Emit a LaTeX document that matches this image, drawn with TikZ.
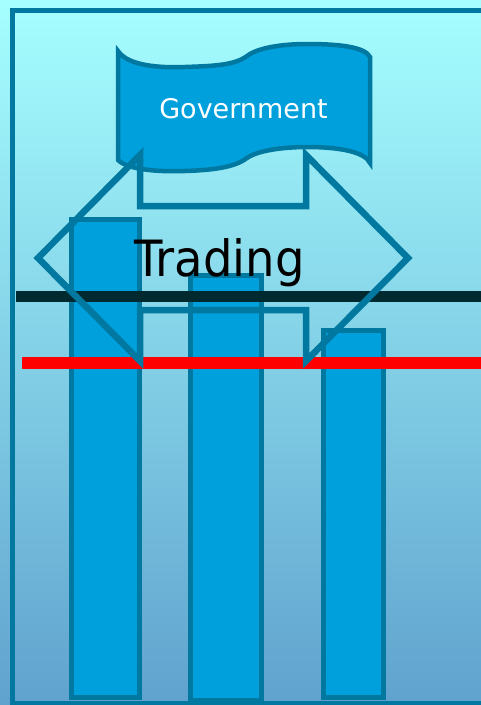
\documentclass[tikz,border=0pt]{standalone}
\usepackage{fontspec}
\newfontfamily\labfont{DejaVu Sans}
\definecolor{bgtop}{RGB}{166,255,255}
\definecolor{bgmid}{RGB}{138,222,240}
\definecolor{bgbot}{RGB}{96,162,206}
\definecolor{edgeblue}{RGB}{0,120,160}
\definecolor{fillblue}{RGB}{0,160,220}
\definecolor{darkline}{RGB}{0,42,48}
\tikzset{
  barbox/.style={draw=edgeblue, fill=fillblue, line width=5pt},
  arrowline/.style={draw=edgeblue, line width=6.5pt, line join=miter},
  flagshape/.style={draw=edgeblue, fill=fillblue, line width=4.5pt},
}
\begin{document}
\begin{tikzpicture}[x=1pt,y=-1pt]
\useasboundingbox (0,0) rectangle (481,705);
% background
\shade[top color=bgtop, middle color=bgmid, bottom color=bgbot] (0,0) rectangle (481,705);
% frame
\draw[edgeblue, line width=5pt] (12,10.5) rectangle (500,703.5);
% flag
\path[flagshape] (118,51) .. controls (128,66) and (160,68) .. (185,67)
  .. controls (215,66) and (235,65) .. (247,56)
  .. controls (260,46) and (290,44) .. (307,44)
  .. controls (340,44) and (365,47) .. (370,57)
  -- (370,163)
  .. controls (365,152) and (340,147) .. (307,147)
  .. controls (290,147) and (260,149) .. (247,158)
  .. controls (235,167) and (215,170) .. (185,171)
  .. controls (160,172) and (128,170) .. (118,160) -- cycle;
\node[font=\labfont\fontsize{27}{30}\selectfont, text=white, anchor=base, inner sep=0pt] (gov) at (243.5,118) {Government};
% bars
\path[barbox] (71.5,219.5) rectangle (139.5,697.5);
\path[barbox] (190.5,275.5) rectangle (261.5,700.5);
\path[barbox] (323.5,330.5) rectangle (383.5,697.5);
% lines
\coordinate (bl1) at (16,296.5);
\coordinate (bl2) at (481,296.5);
\coordinate (rl1) at (22,363);
\coordinate (rl2) at (481,363);
\draw[darkline, line width=11pt] (bl1) -- (bl2);
\draw[red, line width=12pt] (rl1) -- (rl2);
% double arrow
\path[arrowline] (38,258) -- (140,155) -- (140,206) -- (306,206) -- (306,155) -- (408,258)
  -- (306,361) -- (306,310) -- (140,310) -- (140,361) -- cycle;
\node[font=\labfont\fontsize{50}{55}\selectfont, text=black, anchor=base, inner sep=0pt, xscale=0.93] (trade) at (219.5,276.7) {Trading};
\end{tikzpicture}
\end{document}
